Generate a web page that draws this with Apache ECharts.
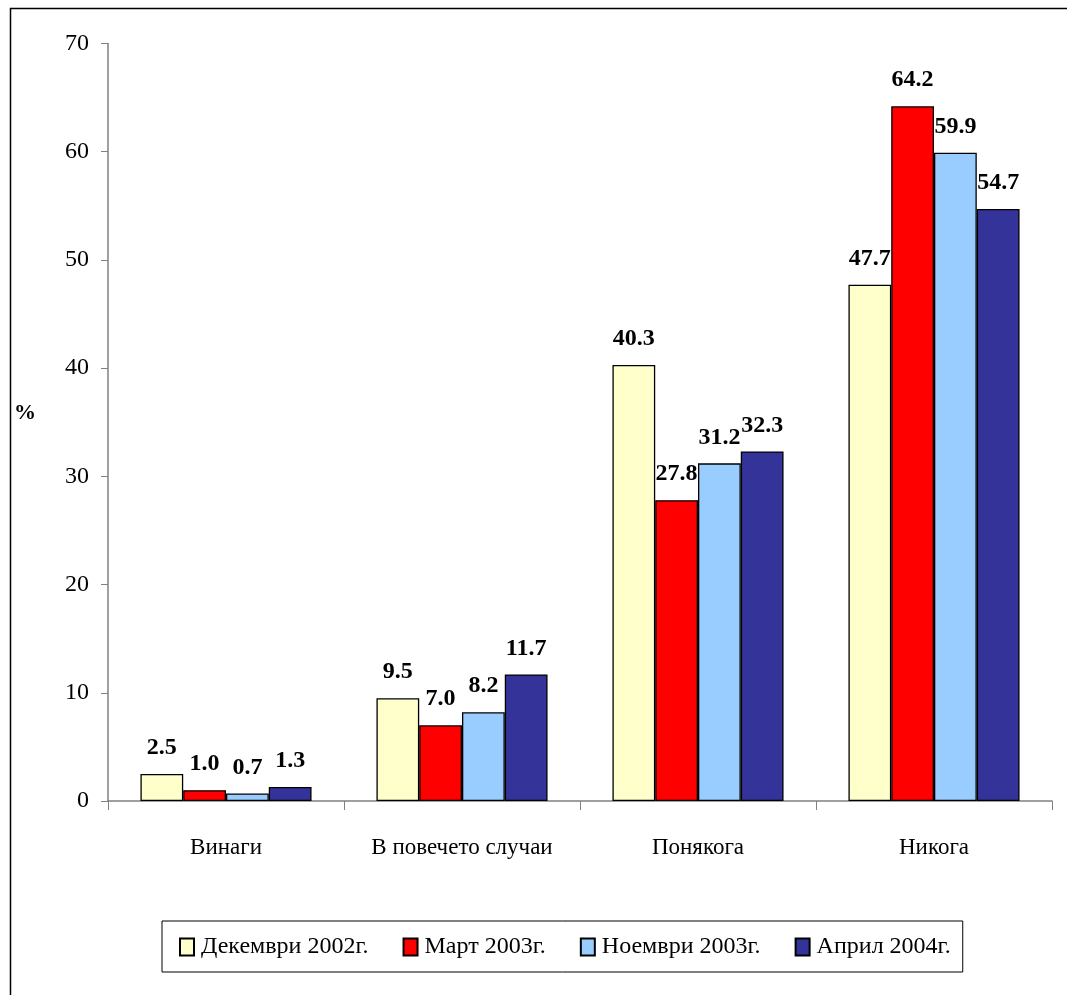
<!DOCTYPE html>
<html>
<head>
<meta charset="utf-8">
<script src="https://cdn.jsdelivr.net/npm/echarts@6/dist/echarts.min.js"></script>
<style>
html,body{margin:0;padding:0;background:#fff;}
#chart{width:1067px;height:995px;}
</style>
</head>
<body>
<div id="chart"></div>
<script>
const categories = ['Винаги', 'В повечето случаи', 'Понякога', 'Никога'];
const seriesNames = ['Декември 2002г.', 'Март 2003г.', 'Ноември 2003г.', 'Април 2004г.'];
const dec2002 = [2.5, 9.5, 40.3, 47.7];
const mar2003 = [1.0, 7.0, 27.8, 64.2];
const nov2003 = [0.7, 8.2, 31.2, 59.9];
const apr2004 = [1.3, 11.7, 32.3, 54.7];
const yTicks = [0, 10, 20, 30, 40, 50, 60, 70];
const colors = ['#FFFFCC', '#FF0000', '#99CCFF', '#333399'];

const FONT = "'Liberation Serif', 'Times New Roman', serif";
const allData = [dec2002, mar2003, nov2003, apr2004];

const chart = echarts.init(document.getElementById('chart'), null, {renderer: 'canvas'});
chart.setOption({
  animation: false,
  backgroundColor: '#fff',
  textStyle: {fontFamily: FONT},
  grid: {left: 108, right: 15, top: 43.5, bottom: 194, containLabel: false},
  graphic: [
    {type: 'rect', shape: {x: 10.5, y: 8.5, width: 1200, height: 1200}, style: {fill: 'none', stroke: '#000', lineWidth: 1.5}, silent: true},
    {type: 'text', left: 14, top: 402, style: {text: '%', font: "bold 22px " + FONT, fill: '#000'}}
  ],
  legend: {
    left: 162, top: 921,
    data: seriesNames,
    itemWidth: 14, itemHeight: 17, itemGap: 34,
    padding: [14, 12, 13, 17],
    borderColor: '#000', borderWidth: 1,
    textStyle: {fontFamily: FONT, fontSize: 24, color: '#000', padding: [0, 0, 0, 2]},
    icon: 'rect'
  },
  xAxis: {
    type: 'category',
    data: categories,
    axisLine: {lineStyle: {color: '#808080', width: 1.5}},
    axisTick: {show: true, length: 9, alignWithLabel: false, lineStyle: {color: '#808080'}},
    axisLabel: {fontFamily: FONT, fontSize: 23, color: '#000', margin: 35, interval: 0},
    splitLine: {show: false}
  },
  yAxis: {
    type: 'value',
    min: 0, max: 70, interval: 10,
    axisLine: {show: true, lineStyle: {color: '#808080', width: 1.5}},
    axisTick: {show: true, length: 7, lineStyle: {color: '#808080'}},
    axisLabel: {fontFamily: FONT, fontSize: 24, color: '#000', margin: 19,
      formatter: v => yTicks.includes(v) ? String(v) : ''},
    splitLine: {show: false}
  },
  series: seriesNames.map((name, i) => ({
    name: name,
    type: 'bar',
    data: allData[i],
    barGap: '0%',
    barCategoryGap: '27.5%',
    itemStyle: {color: colors[i], borderColor: '#000', borderWidth: 1.3},
    label: {
      show: true, position: 'top', distance: 14,
      fontFamily: FONT, fontSize: 24, fontWeight: 'bold', color: '#000',
      formatter: p => Number(p.value).toFixed(1)
    }
  }))
});
</script>
</body>
</html>
